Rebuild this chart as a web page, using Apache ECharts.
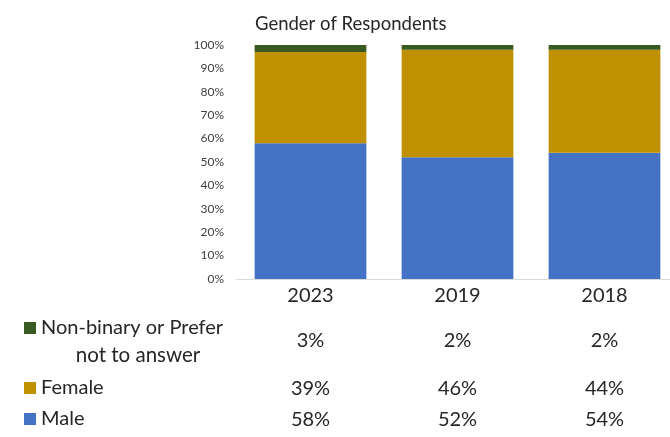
<!DOCTYPE html>
<html><head><meta charset="utf-8">
<script src="https://cdn.jsdelivr.net/npm/echarts@6/dist/echarts.min.js"></script>
<style>html,body{margin:0;padding:0;background:#fff}#c{width:670px;height:437px}</style>
</head><body><div id="c"></div>
<script>
const categories = ['2023', '2019', '2018'];
const male = [58, 52, 54];
const female = [39, 46, 44];
const nonbinary = [3, 2, 2];
const seriesNames = ['Male', 'Female', 'Non-binary or Prefer not to answer'];
const yTicks = [0, 10, 20, 30, 40, 50, 60, 70, 80, 90, 100];

const FONT = 'Lato';
const TXT = '#262626';
const colors = ['#4472C4', '#BF9000', '#3A5A24'];

function rowAxis(values, offset) {
  return {
    type: 'category', data: categories, position: 'bottom', offset: offset,
    axisLine: {show: false}, axisTick: {show: false},
    axisLabel: {margin: 0, fontFamily: FONT, fontSize: 20, lineHeight: 20, color: TXT,
      formatter: (v, i) => values[i] + '%'}
  };
}
const legendText = {fontFamily: FONT, fontSize: 20, lineHeight: 24, color: TXT};

const chart = echarts.init(document.getElementById('c'));
chart.setOption({
  animation: false,
  title: {text: 'Gender of Respondents', left: 250, top: 10,
    textStyle: {fontFamily: FONT, fontSize: 18.5, fontWeight: 'normal', color: TXT}},
  grid: {left: 237, width: 441, top: 45, bottom: 158, outerBoundsMode: 'none', containLabel: false},
  legend: [
    {data: [seriesNames[2]], left: 24, top: 316, padding: 0, icon: 'rect',
     itemWidth: 12, itemHeight: 12, formatter: () => 'Non-binary or Prefer', textStyle: legendText},
    {data: [seriesNames[1]], left: 24, top: 376, padding: 0, icon: 'rect',
     itemWidth: 12, itemHeight: 12, textStyle: legendText},
    {data: [seriesNames[0]], left: 24, top: 407, padding: 0, icon: 'rect',
     itemWidth: 12, itemHeight: 12, textStyle: legendText}
  ],
  graphic: [{type: 'text', x: 138, y: 345,
    style: {text: 'not to answer', textAlign: 'center', fontFamily: FONT, fontSize: 20.5, fill: TXT}}],
  xAxis: [
    {type: 'category', data: categories,
     axisLine: {lineStyle: {color: '#D9D9D9'}}, axisTick: {show: false},
     axisLabel: {margin: 7, fontFamily: FONT, fontSize: 20, color: TXT}},
    rowAxis(nonbinary, 52),
    rowAxis(female, 100),
    rowAxis(male, 131)
  ],
  yAxis: {type: 'value', min: 0, max: 100, interval: 10,
    axisLine: {show: false}, axisTick: {show: false}, splitLine: {show: false},
    axisLabel: {margin: 13, fontFamily: FONT, fontSize: 12, color: '#404040',
      formatter: v => yTicks.includes(v) ? v + '%' : ''}},
  series: [
    {name: seriesNames[0], type: 'bar', stack: 'g', data: male, barCategoryGap: '24%', itemStyle: {color: colors[0]}},
    {name: seriesNames[1], type: 'bar', stack: 'g', data: female, itemStyle: {color: colors[1]}},
    {name: seriesNames[2], type: 'bar', stack: 'g', data: nonbinary, itemStyle: {color: colors[2]}}
  ]
});
</script></body></html>
